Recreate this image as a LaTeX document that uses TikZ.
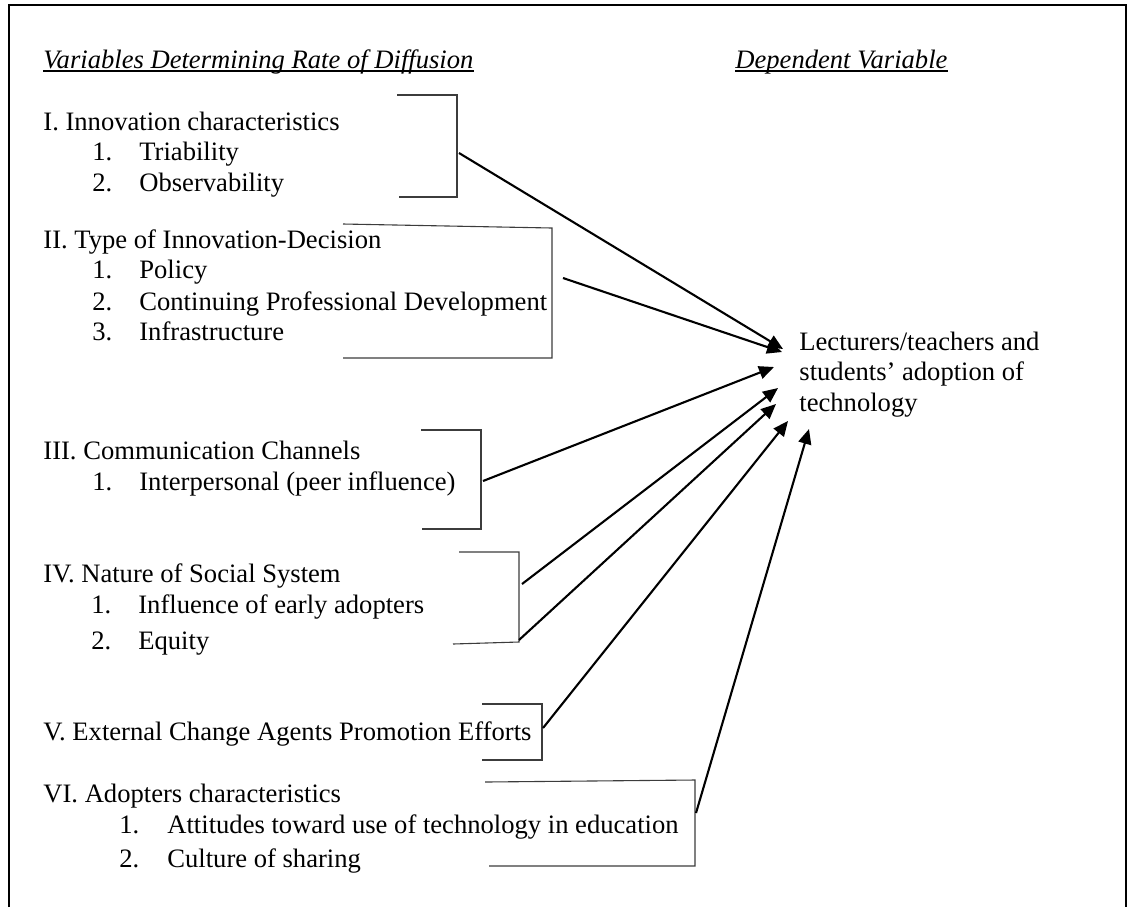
\documentclass[tikz,border=0pt]{standalone}
\usepackage{fontspec}
\setmainfont{Liberation Serif}
\usetikzlibrary{arrows.meta}
\definecolor{BracketGray}{RGB}{60,60,60}

\begin{document}
\begin{tikzpicture}[x=0.5pt,y=-0.5pt,
  lbl/.style={anchor=base west, inner sep=0pt, font=\fontsize{13.3}{15.1}\selectfont},
  head/.style={lbl, font=\fontsize{13.3}{15.1}\selectfont\itshape},
  brk/.style={line width=0.55pt, BracketGray},
  arr/.style={line width=1.05pt, -{Triangle[length=7.5pt,width=6.5pt]}}]

\useasboundingbox (0,0) rectangle (1129,907);

% Frame
\draw[line width=1.1pt] (9,907) -- (9,5) -- (1126,5) -- (1126,907);

% Headings
\node[head] (hdvar) at (43,68) {Variables Determining Rate of Diffusion};
\node[head] (hddep) at (735,68) {Dependent Variable};
\draw[line width=0.65pt] ([yshift=-1.5pt]hdvar.base west) -- ([yshift=-1.5pt]hdvar.base east);
\draw[line width=0.65pt] ([yshift=-1.5pt]hddep.base west) -- ([yshift=-1.5pt]hddep.base east);

% I
\node[lbl] (innov) at (43,130) {I. Innovation characteristics};
\node[lbl] (innov1) at (92,160) {\makebox[23.5pt][l]{1.}Triability};
\node[lbl] (innov2) at (92,191) {\makebox[23.5pt][l]{2.}Observability};

% II
\node[lbl] (decis) at (43,248) {II. Type of Innovation-Decision};
\node[lbl] (decis1) at (92,278) {\makebox[23.5pt][l]{1.}Policy};
\node[lbl] (decis2) at (92,310) {\makebox[23.5pt][l]{2.}Continuing Professional Development};
\node[lbl] (decis3) at (92,340) {\makebox[23.5pt][l]{3.}Infrastructure};

% III
\node[lbl] (comm) at (43,459) {III. Communication Channels};
\node[lbl] (comm1) at (92,490) {\makebox[23.5pt][l]{1.}Interpersonal (peer influence)};

% IV
\node[lbl] (social) at (43,582) {IV. Nature of Social System};
\node[lbl] (social1) at (91,613) {\makebox[23.5pt][l]{1.}Influence of early adopters};
\node[lbl] (social2) at (91,649) {\makebox[23.5pt][l]{2.}Equity};

% V
\node[lbl] (agents) at (43,740) {V. External Change Agents Promotion Efforts};

% VI
\node[lbl] (adopt) at (43,802) {VI. Adopters characteristics};
\node[lbl] (adopt1) at (119,833) {\makebox[24pt][l]{1.}Attitudes toward use of technology in education};
\node[lbl] (adopt2) at (119,867) {\makebox[24pt][l]{2.}Culture of sharing};

% Dependent variable (base = last line)
\node[lbl, align=left] (dep) at (799,411) {Lecturers/teachers and\\students' adoption of\\technology};

% Brackets
\draw[brk] (397,95) -- (457,95) -- (457,197) -- (399,197);
\draw[brk] (343,224) -- (552,228) -- (552,358) -- (343,358);
\draw[brk] (421,430) -- (481,430) -- (481,529) -- (422,529);
\draw[brk] (459,552) -- (519,552) -- (519,642) -- (453,644);
\draw[brk] (482,704) -- (542,704) -- (542,760) -- (482,760);
\draw[brk] (485,782) -- (695,780) -- (695,866) -- (489,866);

% Arrow ends
\coordinate (bI) at (459,153);   \coordinate (tI) at (783,349);
\coordinate (bII) at (563,278);  \coordinate (tII) at (782,352);
\coordinate (bIII) at (483,481); \coordinate (tIII) at (774,367);
\coordinate (bIVa) at (522,584); \coordinate (tIVa) at (778,388);
\coordinate (bIVb) at (519,640); \coordinate (tIVb) at (776,404);
\coordinate (bV) at (543,728);   \coordinate (tV) at (788,421);
\coordinate (bVI) at (696,813);  \coordinate (tVI) at (809,429);

% Arrows
\foreach \src/\dst in {bI/tI, bII/tII, bIII/tIII, bIVa/tIVa, bIVb/tIVb, bV/tV, bVI/tVI}
  \draw[arr] (\src) -- (\dst);

\end{tikzpicture}
\end{document}
